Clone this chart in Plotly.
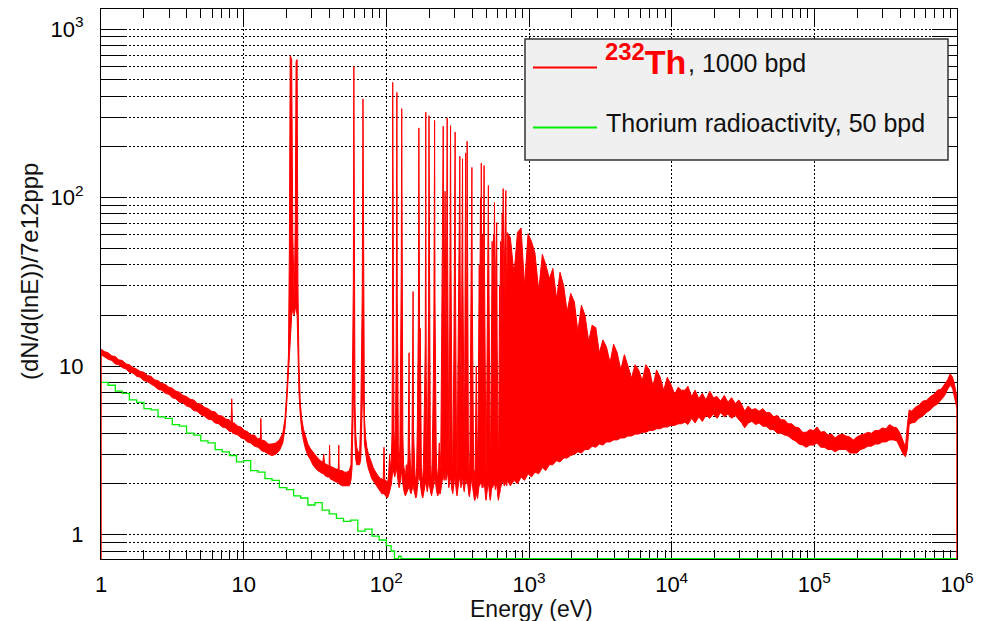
import plotly.graph_objects as go

# ---------------- data ----------------
# 232Th, 1000 bpd : histogram drawn as an upper/lower envelope per energy bin
# segment A : 1 - 20.6 eV (smooth 1/E-like part, noise band)
segA_E = [1.00, 1.06, 1.12, 1.19, 1.26, 1.33, 1.41, 1.50, 1.58, 1.68,
          1.78, 1.88, 2.00, 2.11, 2.24, 2.37, 2.51, 2.66, 2.82, 2.99,
          3.16, 3.35, 3.55, 3.76, 3.98, 4.22, 4.47, 4.73, 5.01, 5.31,
          5.62, 5.96, 6.31, 6.68, 7.08, 7.50, 7.94, 8.15, 8.25, 8.35,
          8.6, 9.1, 9.6, 10.1, 10.6, 11.2, 11.9, 12.6, 13.1, 13.2,
          13.3, 14.1, 14.9, 15.8, 16.8, 17.8, 18.8, 19.5, 20.0, 20.6]
segA_hi = [12.6, 12.2, 12.0, 11.5, 11.4, 10.9, 10.8, 10.3, 10.2, 9.8,
           9.6, 9.3, 9.2, 8.8, 8.7, 8.3, 8.2, 7.9, 7.8, 7.5,
           7.4, 7.1, 7.0, 6.7, 6.6, 6.35, 6.3, 6.0, 5.95, 5.7,
           5.6, 5.4, 5.35, 5.1, 5.05, 4.85, 4.8, 4.6, 6.4, 4.6,
           4.6, 4.4, 4.35, 4.15, 4.1, 3.9, 3.9, 3.7, 3.75, 4.9,
           3.65, 3.6, 3.45, 3.45, 3.5, 3.65, 4.0, 4.9, 6.8, 11.5]
segA_lo = [11.7, 11.3, 11.0, 10.8, 10.3, 10.2, 9.8, 9.6, 9.2, 9.1,
           8.7, 8.6, 8.2, 8.1, 7.8, 7.6, 7.3, 7.2, 6.9, 6.8,
           6.5, 6.4, 6.1, 6.05, 5.8, 5.7, 5.45, 5.4, 5.15, 5.05,
           4.85, 4.8, 4.6, 4.55, 4.35, 4.3, 4.1, 4.1, 4.1, 4.0,
           3.95, 3.9, 3.75, 3.7, 3.55, 3.5, 3.35, 3.3, 3.2, 3.2,
           3.15, 3.1, 3.0, 2.95, 3.0, 3.15, 3.5, 4.3, 5.8, 9.0]

# segment B : 20.9 - 105.5 eV (first four s-wave resonances)
segB_E = [20.9, 21.2, 21.7, 22.1, 22.6, 23.0, 23.3, 23.7, 24.0, 24.4,
          24.9, 25.5, 26.3, 27.2, 28.2, 29.3, 30.5, 31.6, 33.0, 34.5,
          35.9, 36.4, 36.9, 38.5, 39.7, 40.0, 40.3, 42.5, 44.5, 46.1,
          46.4, 46.7, 49.0, 51.0, 53.0, 55.0, 56.5, 57.5, 58.2, 58.7,
          59.2, 59.7, 60.3, 61.0, 62.0, 63.5, 65.0, 66.2, 67.0, 67.8,
          68.6, 69.4, 70.2, 71.5, 73.0, 75.0, 77.0, 79.0, 81.0, 83.0,
          85.0, 87.0, 89.0, 91.0, 93.0, 95.0, 96.3, 97.5, 99.5, 101.5,
          103.5, 105.5]
segB_hi = [47, 697, 660, 60, 25, 70, 640, 659, 31, 10.6,
           6.2, 4.9, 4.2, 3.75, 3.45, 3.25, 3.1, 2.95, 2.85, 2.75,
           2.7, 3.0, 2.65, 2.6, 2.55, 3.4, 2.55, 2.5, 2.45, 2.45,
           3.4, 2.4, 2.4, 2.35, 2.35, 2.4, 2.6, 5.0, 11.4, 31,
           601, 31, 6.0, 4.0, 3.3, 3.1, 3.06, 5.0, 12.5, 27,
           385, 27, 5.0, 3.8, 3.3, 3.0, 2.8, 2.6, 2.5, 2.4,
           2.3, 2.25, 2.2, 2.15, 2.15, 2.1, 3.3, 2.1, 2.1, 2.0,
           2.2, 3.0]
segB_lo = [10, 14, 20, 22, 20, 22, 22, 20, 11, 7,
           5.2, 4.2, 3.6, 3.2, 2.95, 2.8, 2.6, 2.5, 2.4, 2.35,
           2.3, 2.3, 2.25, 2.2, 2.2, 2.2, 2.15, 2.1, 2.05, 2.05,
           2.05, 2.0, 1.95, 1.95, 1.95, 1.95, 2.1, 2.5, 4.0, 6,
           8, 6, 3.5, 2.8, 2.6, 2.6, 2.6, 2.8, 4.0, 6,
           8, 6, 3.5, 3.0, 2.7, 2.45, 2.3, 2.15, 2.05, 2.0,
           1.95, 1.9, 1.85, 1.8, 1.75, 1.75, 1.75, 1.72, 1.7, 1.65,
           1.7, 1.8]

# segment C : 107 - 698 eV (resolved resonance forest)
segC_E = [107, 108.5, 109.6, 110.3, 110.8, 111.4, 112.2, 113.2, 114.5, 116.0,
          117.2, 117.9, 118.6, 119.3, 120.3, 121.5, 123.0, 124.5, 126.0, 127.2,
          128.2, 129.2, 130.5, 132, 134, 136, 138, 140, 142, 143.5,
          144.3, 145.3, 147, 149, 151, 152.7, 154, 155.2, 157, 159,
          161, 163, 165, 166.5, 167.8, 169, 170.3, 171.5, 173, 174.3,
          176, 178, 180, 182, 184, 185.8, 187.5, 189, 190.3, 191.8,
          193.5, 195, 196.5, 197.8, 199, 200.3, 201.8, 203.5, 205.5, 207.5,
          209.5, 211.5, 213.5, 215.5, 217, 218, 219.3, 220.7, 222, 223.4,
          225, 227, 229, 231, 233, 235, 237, 239, 241, 243,
          245, 247, 248.5, 250.5, 252, 254, 256, 258, 260, 262,
          264, 265.5, 267, 268.5, 270, 272, 274, 276, 278, 280,
          282, 284, 286, 288, 290, 292, 294, 296, 298, 300,
          302, 303.5, 305, 307, 309, 311, 313, 315, 317, 319,
          321.5, 324, 326, 327.5, 329, 331, 333.5, 336, 338.5, 340.5,
          342, 344, 346.5, 349, 351.5, 354, 356.5, 358.5, 360, 362,
          364, 366.5, 368.5, 370.5, 373, 376, 379, 382, 385, 388,
          391, 394, 396.5, 398, 400, 403, 406, 409, 412, 415,
          418, 421, 424, 427, 430, 433, 436, 439, 442, 445,
          448, 451, 454, 457, 460, 463, 466, 469, 472, 475,
          478, 481, 484.5, 488, 491, 494, 497, 500, 503, 506,
          509, 512, 516, 519, 523, 526, 529, 532, 535, 538,
          541, 544, 548, 552, 556, 560, 564, 568, 573, 577,
          581, 585, 589, 594, 598, 602, 606, 610, 614, 618,
          622, 626, 630, 634, 639, 644, 649, 654, 659, 664,
          669, 674, 679, 684, 688, 693, 698]
segC_hi = [2.4, 2.8, 4.0, 12, 483, 40, 12, 4.0, 3.2, 4.5,
           12, 30, 421, 25, 5.0, 3.0, 2.6, 3.5, 12, 35,
           337, 14, 4.0, 2.6, 2.3, 2.2, 2.6, 2.3, 2.8, 5,
           12, 3.5, 2.4, 2.2, 2.6, 6, 27.7, 4, 2.4, 2.2,
           2.1, 2.5, 4.5, 9, 20, 259, 25, 8, 16.7, 4,
           2.5, 2.2, 2.1, 2.6, 4, 8, 14, 321, 9, 4,
           2.6, 5, 12, 22, 306, 30, 5, 2.6, 2.3, 2.1,
           2.8, 4, 8, 20, 45, 287, 25, 6, 11.7, 3.5,
           2.5, 2.2, 2.1, 2.4, 2.8, 3.5, 2.4, 2.6, 3.2, 8,
           28, 45, 60, 265, 40, 18, 45, 109, 40, 12,
           30, 80, 297, 60, 15, 6, 3, 4, 10, 40,
           267, 40, 8, 3.5, 2.6, 2.4, 3.5, 7, 15, 40,
           70, 245, 35, 9, 4, 2.6, 2.3, 4.5, 8, 12,
           30, 55, 70, 176, 40, 15, 6, 12, 30, 60,
           170, 35, 10, 4, 3.5, 8, 25, 60, 184, 40,
           15, 25, 216, 30, 8, 3.5, 2.4, 2.2, 3, 6,
           20, 45, 80, 151, 30, 8, 3.5, 2.5, 2.2, 2.4,
           2.1, 3, 6, 10, 5, 3, 2.5, 4, 9, 30,
           40, 15, 50, 100, 25, 160, 40, 20, 60, 25,
           45, 80, 155, 35, 10, 4, 2.5, 2.2, 3.5, 10,
           25, 45, 60, 118, 40, 12, 4, 2.6, 2.3, 3,
           8, 20, 35, 55, 20, 40, 60, 45, 93.5, 30,
           12, 40, 55, 71, 15, 5, 2.5, 2.2, 4, 12,
           30, 15, 40, 55, 35, 60, 80, 60, 113, 50,
           25, 45, 80, 60, 110, 40, 20]
segC_lo = [1.9, 2.0, 2.1, 2.3, 2.5, 2.5, 2.4, 2.3, 2.2, 2.3,
           2.4, 2.5, 2.5, 2.4, 2.2, 2.0, 1.9, 1.9, 2.1, 2.3,
           2.4, 2.2, 2.0, 1.85, 1.75, 1.7, 1.75, 1.8, 1.85, 1.9,
           2.0, 1.9, 1.8, 1.75, 1.8, 1.9, 2.0, 1.9, 1.8, 1.7,
           1.65, 1.7, 1.9, 2.0, 2.2, 2.3, 2.2, 2.1, 2.1, 1.9,
           1.8, 1.7, 1.65, 1.7, 1.8, 1.9, 2.0, 2.1, 2.0, 1.9,
           1.8, 1.85, 1.95, 2.05, 2.1, 2.0, 1.9, 1.8, 1.75, 1.7,
           1.72, 1.8, 1.9, 2.0, 2.1, 2.2, 2.1, 2.0, 2.0, 1.9,
           1.8, 1.75, 1.7, 1.7, 1.75, 1.8, 1.75, 1.75, 1.8, 1.9,
           2.0, 2.1, 2.2, 2.3, 2.2, 2.1, 2.2, 2.3, 2.2, 2.1,
           2.2, 2.3, 2.4, 2.3, 2.2, 2.1, 1.9, 1.9, 2.0, 2.1,
           2.2, 2.1, 2.0, 1.85, 1.8, 1.75, 1.8, 1.9, 2.0, 2.1,
           2.2, 2.2, 2.1, 2.0, 1.85, 1.75, 1.7, 1.75, 1.85, 1.95,
           2.05, 2.15, 2.2, 2.2, 2.1, 2.0, 1.9, 1.95, 2.05, 2.15,
           2.2, 2.1, 1.95, 1.85, 1.8, 1.85, 2.0, 2.1, 2.15, 2.1,
           2.0, 2.05, 2.15, 2.05, 1.95, 1.8, 1.72, 1.68, 1.7, 1.8,
           1.95, 2.05, 2.1, 2.15, 2.05, 1.9, 1.8, 1.72, 1.65, 1.6,
           1.6, 1.62, 1.7, 1.8, 1.75, 1.68, 1.64, 1.66, 1.75, 1.9,
           2.0, 1.95, 2.0, 2.1, 2.0, 2.1, 2.0, 1.9, 1.95, 1.9,
           1.95, 2.0, 2.1, 2.0, 1.85, 1.75, 1.65, 1.6, 1.62, 1.7,
           1.8, 1.9, 2.0, 2.05, 2.0, 1.85, 1.75, 1.65, 1.6, 1.62,
           1.7, 1.8, 1.9, 1.95, 1.9, 1.95, 2.0, 1.95, 2.05, 1.95,
           1.85, 1.9, 1.95, 2.0, 1.85, 1.75, 1.65, 1.6, 1.62, 1.7,
           1.8, 1.78, 1.88, 1.95, 1.95, 2.0, 2.05, 2.05, 2.1, 2.05,
           1.95, 1.95, 2.0, 2.0, 2.1, 2.0, 1.95]

# segment D : 705 eV - 12.4 keV (unresolved, densely packed resonances)
segD_E = [705, 740, 785, 830, 880, 930, 985, 1040, 1100, 1170,
          1240, 1310, 1390, 1470, 1560, 1650, 1750, 1850, 1960, 2080,
          2200, 2330, 2470, 2620, 2770, 2940, 3110, 3300, 3490, 3700,
          3920, 4150, 4400, 4660, 4940, 5230, 5540, 5870, 6220, 6590,
          6980, 7400, 7840, 8300, 8800, 9320, 9870, 10500, 11100, 11700,
          12400]
segD_hi = [62, 58, 35, 62, 66, 30, 61, 55, 47, 28,
           46, 40, 33, 38, 25, 36, 30, 21, 27, 24,
           16, 23, 20, 14, 17.5, 16.9, 12, 14.3, 13, 10.5,
           13.5, 12, 9.5, 11.7, 10, 8.5, 10.2, 9.5, 8.2, 10.2,
           9.5, 7.6, 9.5, 8.6, 7.2, 8.6, 7.8, 6.8, 7.5, 7.2,
           7.2]
segD_lo = [2.1, 1.95, 2.1, 2.0, 2.2, 2.1, 2.3, 2.2, 2.35, 2.3,
           2.5, 2.4, 2.6, 2.6, 2.75, 2.7, 2.85, 2.85, 2.95, 3.0,
           3.1, 3.05, 3.2, 3.2, 3.35, 3.3, 3.45, 3.4, 3.55, 3.55,
           3.65, 3.65, 3.75, 3.75, 3.85, 3.85, 3.95, 3.95, 4.05, 4.05,
           4.15, 4.15, 4.25, 4.25, 4.35, 4.35, 4.45, 4.45, 4.55, 4.55,
           4.65]

# segment E : 13 keV - 1 MeV (continuum tail)
segE_E = [13000, 13800, 14600, 15500, 16400, 17400, 18500, 19600, 20800, 22000,
          23400, 24800, 26300, 27900, 29600, 31000, 32500, 34400, 36500, 38700,
          41000, 43500, 46100, 48900, 51800, 55000, 58300, 61800, 65500, 69400,
          73600, 78000, 82700, 87700, 93000, 98600, 104500, 110800, 117500, 124600,
          132100, 140000, 148500, 157400, 166900, 176900, 187600, 198900, 210900, 223600,
          237100, 251400, 266600, 282700, 299700, 317800, 337000, 357300, 378800, 401600,
          420000, 435000, 448000, 462000, 480000, 510000, 540000, 575000, 610000, 650000,
          690000, 730000, 775000, 820000, 860000, 895000, 930000, 960000, 985000, 1000000]
segE_hi = [7.6, 6.6, 7.2, 6.4, 6.9, 6.3, 7.1, 6.5, 6.6, 6.2,
           6.7, 6.1, 6.5, 6.0, 6.3, 5.9, 5.4, 5.8, 5.5, 5.6,
           5.4, 5.6, 5.3, 5.3, 5.0, 5.1, 4.8, 4.8, 4.55, 4.55,
           4.35, 4.3, 4.05, 4.05, 4.2, 4.15, 4.35, 4.05, 4.1, 3.9,
           3.95, 3.75, 3.9, 3.95, 3.85, 3.8, 3.65, 3.8, 3.9, 3.95,
           4.05, 4.0, 4.15, 4.15, 4.3, 4.25, 4.5, 4.35, 4.3, 3.95,
           3.6, 3.3, 4.4, 5.5, 5.4, 5.7, 5.85, 6.2, 6.25, 6.6,
           6.8, 7.2, 7.3, 7.9, 8.3, 9.0, 8.6, 7.8, 6.9, 6.5]
segE_lo = [4.5, 4.9, 4.6, 5.0, 4.7, 5.1, 4.9, 5.2, 4.9, 5.3,
           5.0, 5.2, 4.9, 5.1, 4.8, 4.6, 4.3, 4.6, 4.7, 4.5,
           4.6, 4.4, 4.4, 4.2, 4.2, 4.0, 4.0, 3.9, 3.85, 3.7,
           3.6, 3.45, 3.4, 3.3, 3.4, 3.4, 3.5, 3.3, 3.3, 3.2,
           3.2, 3.1, 3.2, 3.2, 3.2, 3.05, 3.05, 3.05, 3.2, 3.25,
           3.35, 3.35, 3.45, 3.45, 3.55, 3.55, 3.65, 3.65, 3.6, 3.25,
           3.0, 2.9, 3.2, 4.5, 4.6, 4.65, 4.9, 5.05, 5.3, 5.5,
           5.8, 5.95, 6.3, 6.7, 7.3, 7.7, 7.4, 6.7, 5.9, 5.6]

# Thorium radioactivity, 50 bpd (step histogram)
green_E = [1.00, 1.12, 1.26, 1.41, 1.58, 1.78, 2.00, 2.24, 2.51, 2.82,
           3.16, 3.55, 3.98, 4.47, 5.01, 5.62, 6.31, 7.08, 7.94, 8.91,
           10.0, 11.2, 12.6, 14.1, 15.8, 17.8, 20.0, 22.4, 25.1, 28.2,
           31.6, 35.5, 39.8, 44.7, 50.1, 56.2, 63.1, 70.8, 79.4, 89.1,
           100, 108, 114, 122, 127, 1000000]
green_V = [8.0, 7.7, 7.1, 6.9, 6.3, 6.1, 5.6, 5.5, 5.0, 4.9,
           4.5, 4.4, 4.0, 3.9, 3.6, 3.5, 3.2, 3.1, 2.95, 2.7,
           2.75, 2.4, 2.35, 2.15, 2.1, 1.9, 1.85, 1.7, 1.65, 1.5,
           1.55, 1.4, 1.33, 1.25, 1.2, 1.22, 1.05, 1.08, 0.98, 0.93,
           0.86, 0.80, 0.72, 0.745, 0.72, 0.72]

x_tick_vals = [1, 10, 100, 1000, 10000, 100000, 1000000]
x_tick_text = ["1", "10", "10<sup>2</sup>", "10<sup>3</sup>", "10<sup>4</sup>",
               "10<sup>5</sup>", "10<sup>6</sup>"]
y_tick_vals = [1, 10, 100, 1000]
y_tick_text = ["1", "10", "10<sup>2</sup>", "10<sup>3</sup>"]

# ---------------- build figure ----------------
E_all = segA_E + segB_E + segC_E + segD_E + segE_E
hi_all = segA_hi + segB_hi + segC_hi + segD_hi + segE_hi
lo_all = segA_lo + segB_lo + segC_lo + segD_lo + segE_lo
assert len(E_all) == len(hi_all) == len(lo_all)

YLOG = [-0.1443, 3.1188]
ymin = 10 ** YLOG[0]

RED = "#ff0000"
GREEN = "#00ee00"
FONT = "Liberation Sans, Arial, Helvetica, sans-serif"
GRID = dict(showgrid=True, gridcolor="black", griddash="2px,2px", gridwidth=1)

fig = go.Figure()
fig.add_trace(go.Scatter(x=green_E, y=green_V, mode="lines",
                         line=dict(color=GREEN, width=1.3, shape="hv"),
                         hoverinfo="skip"))
fig.add_trace(go.Scatter(x=E_all + E_all[::-1], y=hi_all + lo_all[::-1],
                         mode="lines", fill="toself", fillcolor=RED,
                         line=dict(color=RED, width=1), hoverinfo="skip"))
# histogram edges at the first and last bins
fig.add_trace(go.Scatter(x=[E_all[0], E_all[0], None, E_all[-1], E_all[-1]],
                         y=[ymin, hi_all[0], None, lo_all[-1], ymin],
                         mode="lines", line=dict(color=RED, width=1.5),
                         hoverinfo="skip"))

x_minor = [m * 10 ** k for k in range(6) for m in range(2, 10)]
y_minor = [m * 10 ** k for k in range(-1, 4) for m in range(2, 10)
           if ymin <= m * 10 ** k <= 10 ** YLOG[1]]

fig.update_layout(
    width=995, height=621,
    margin=dict(l=101, r=38, t=9, b=62),
    plot_bgcolor="white", paper_bgcolor="white",
    showlegend=False,
    font=dict(family=FONT, color="black"),
    xaxis=dict(type="log", range=[0, 6], tickvals=x_tick_vals, ticktext=x_tick_text,
               ticks="inside", ticklen=16, tickwidth=1, tickcolor="black",
               showline=True, linecolor="black", linewidth=1, mirror="ticks",
               layer="below traces", tickfont=dict(size=22, family=FONT),
               ticklabelstandoff=6, zeroline=False, **GRID,
               minor=dict(tickvals=x_minor, ticks="inside", ticklen=9,
                          tickcolor="black", tickwidth=1, showgrid=False)),
    yaxis=dict(type="log", range=YLOG, tickvals=y_tick_vals, ticktext=y_tick_text,
               ticks="inside", ticklen=25, tickwidth=1, tickcolor="black",
               showline=True, linecolor="black", linewidth=1, mirror="ticks",
               layer="below traces", tickfont=dict(size=22, family=FONT),
               ticklabelstandoff=12, zeroline=False, **GRID,
               minor=dict(tickvals=y_minor, ticks="inside", ticklen=25,
                          tickcolor="black", tickwidth=1, **GRID)),
)

def px_x(p):
    return (p - 101) / 856.0

def px_y(p):
    return (559 - p) / 550.0

# legend box
fig.add_shape(type="rect", xref="paper", yref="paper",
              x0=px_x(525), x1=px_x(948), y0=px_y(160), y1=px_y(39),
              fillcolor="#f0f0f0", line=dict(color="#333333", width=1.5), layer="above")
fig.add_shape(type="line", xref="paper", yref="paper",
              x0=px_x(533), x1=px_x(597), y0=px_y(67.5), y1=px_y(67.5),
              line=dict(color=RED, width=2), layer="above")
fig.add_shape(type="line", xref="paper", yref="paper",
              x0=px_x(533), x1=px_x(597), y0=px_y(127.5), y1=px_y(127.5),
              line=dict(color=GREEN, width=2), layer="above")
fig.add_annotation(xref="paper", yref="paper", x=px_x(603), y=px_y(59),
                   xanchor="left", yanchor="middle", showarrow=False,
                   text="<b><sup>232</sup>Th</b>",
                   font=dict(size=34, color=RED, family=FONT))
fig.add_annotation(xref="paper", yref="paper", x=px_x(686), y=px_y(63),
                   xanchor="left", yanchor="middle", showarrow=False,
                   text=", 1000 bpd", font=dict(size=25, color="#111111", family=FONT))
fig.add_annotation(xref="paper", yref="paper", x=px_x(604), y=px_y(123),
                   xanchor="left", yanchor="middle", showarrow=False,
                   text="Thorium radioactivity, 50 bpd",
                   font=dict(size=25, color="#111111", family=FONT))

# axis titles
fig.add_annotation(xref="paper", yref="paper", x=px_x(531), y=px_y(609),
                   xanchor="center", yanchor="middle", showarrow=False,
                   text="Energy (eV)", font=dict(size=23, color="#111111", family=FONT))
fig.add_annotation(xref="paper", yref="paper", x=px_x(29), y=px_y(272),
                   xanchor="center", yanchor="middle", showarrow=False, textangle=-90,
                   text="(dN/d(lnE))/7e12ppp", font=dict(size=24, color="#111111", family=FONT))

fig.write_html("out.html")
